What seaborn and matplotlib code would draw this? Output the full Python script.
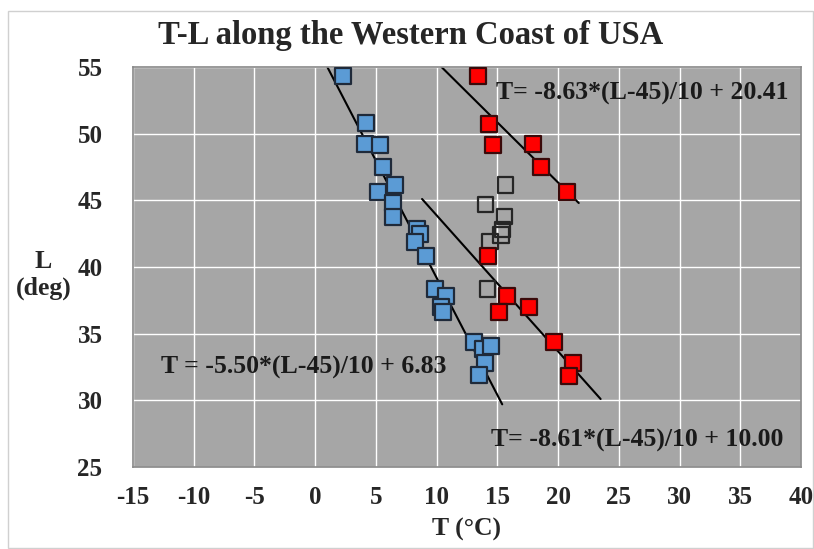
import numpy as np
import pandas as pd
import seaborn as sns
import matplotlib.pyplot as plt
from matplotlib.patches import Rectangle

# blue group (T in degC, L in deg)
blue_t = [2.3, 4.2, 4.1, 5.3, 5.6, 6.6, 5.2, 6.4, 6.4, 8.4, 8.6, 8.2, 9.1, 9.9,
          10.8, 10.4, 10.5, 13.1, 13.8, 14.5, 14.0, 13.5]
blue_l = [54.3, 50.8, 49.2, 49.15, 47.5, 46.15, 45.6, 44.8, 43.75, 42.85, 42.5,
          41.9, 40.8, 38.35, 37.8, 37.0, 36.6, 34.4, 33.85, 34.1, 32.8, 31.9]

# red group
red_t = [13.4, 14.3, 14.6, 17.9, 18.6, 20.7, 14.2, 15.8, 17.6, 15.1, 19.7, 21.2, 20.9]
red_l = [54.3, 50.7, 49.15, 49.2, 47.5, 45.6, 40.8, 37.8, 37.0, 36.6, 34.4, 32.8, 31.8]

# open squares
open_t = [15.7, 14.0, 15.6, 15.4, 15.3, 14.4, 14.2]
open_l = [46.15, 44.7, 43.8, 42.8, 42.4, 41.9, 38.35]

# fit lines, end points as drawn
blue_fit_t = [1.0, 15.4]
blue_fit_l = [55.0, 29.7]
red_hi_fit_t = [10.4, 21.7]
red_hi_fit_l = [55.0, 44.8]
red_lo_fit_t = [8.8, 23.5]
red_lo_fit_l = [45.1, 30.1]

eq_texts = ["T= -8.63*(L-45)/10 + 20.41",
            "T = -5.50*(L-45)/10 + 6.83",
            "T= -8.61*(L-45)/10 + 10.00"]
eq_pos = [(14.9, 53.05), (-12.7, 32.5), (14.5, 27.0)]

x_ticks = list(range(-15, 41, 5))
y_ticks = list(range(25, 56, 5))

sns.set_theme(style="darkgrid", rc={
    "axes.facecolor": "#A6A6A6",
    "grid.color": "white",
    "grid.linewidth": 1.0,
    "axes.edgecolor": "#8C8C8C",
})
plt.rcParams["font.family"] = ["Liberation Serif", "DejaVu Serif"]
plt.rcParams["axes.unicode_minus"] = False

fig = plt.figure(figsize=(8.14, 5.49), dpi=100)
ax = fig.add_axes([133 / 814, 1 - 467 / 549, (801 - 133) / 814, 400 / 549])

# chart area border
fig.patches.append(Rectangle((8 / 814, 1 / 549), 805 / 814, 537 / 549,
                             transform=fig.transFigure, fill=False,
                             edgecolor="#D0D0D0", linewidth=1.0))

for xs, ys in [(blue_fit_t, blue_fit_l), (red_hi_fit_t, red_hi_fit_l),
               (red_lo_fit_t, red_lo_fit_l)]:
    sns.lineplot(x=xs, y=ys, ax=ax, color="black", linewidth=1.5, sort=False,
                 zorder=2)

sns.scatterplot(x=open_t, y=open_l, ax=ax, marker="s", s=120,
                facecolor="none", edgecolor="#262626", linewidth=1.6, zorder=3)
sns.scatterplot(x=blue_t, y=blue_l, ax=ax, marker="s", s=120,
                color="#5B9BD5", edgecolor="#1F2A3A", linewidth=1.6, zorder=3)
sns.scatterplot(x=red_t, y=red_l, ax=ax, marker="s", s=120,
                color="#FF0000", edgecolor="#3A0A0A", linewidth=1.6, zorder=4)

for txt, (tx, ty) in zip(eq_texts, eq_pos):
    ax.text(tx, ty, txt, ha="left", va="center", fontsize=18.5,
            fontweight="bold", color="#1A1A1A", zorder=5)

ax.set_xlim(-15, 40)
ax.set_ylim(25, 55)
ax.set_xticks(x_ticks)
ax.set_yticks(y_ticks)
ax.tick_params(axis="x", labelsize=18, pad=14, length=0)
ax.tick_params(axis="y", labelsize=18, pad=22, length=0)
for lab in ax.get_xticklabels() + ax.get_yticklabels():
    lab.set_fontweight("bold")
ax.grid(True, color="white", linewidth=1.0)

ax.set_xlabel("T (°C)", fontsize=18.5, fontweight="bold", labelpad=6)
ax.set_ylabel("L\n(deg)", fontsize=18.5, fontweight="bold", rotation=0,
              ha="center", va="center", linespacing=1.25)
ax.yaxis.set_label_coords(-0.134, 0.48)

fig.text(0.505, 0.935, "T-L along the Western Coast of USA", ha="center",
         va="center", fontsize=23.5, fontweight="bold")

fig.savefig("out.png", dpi=100)
